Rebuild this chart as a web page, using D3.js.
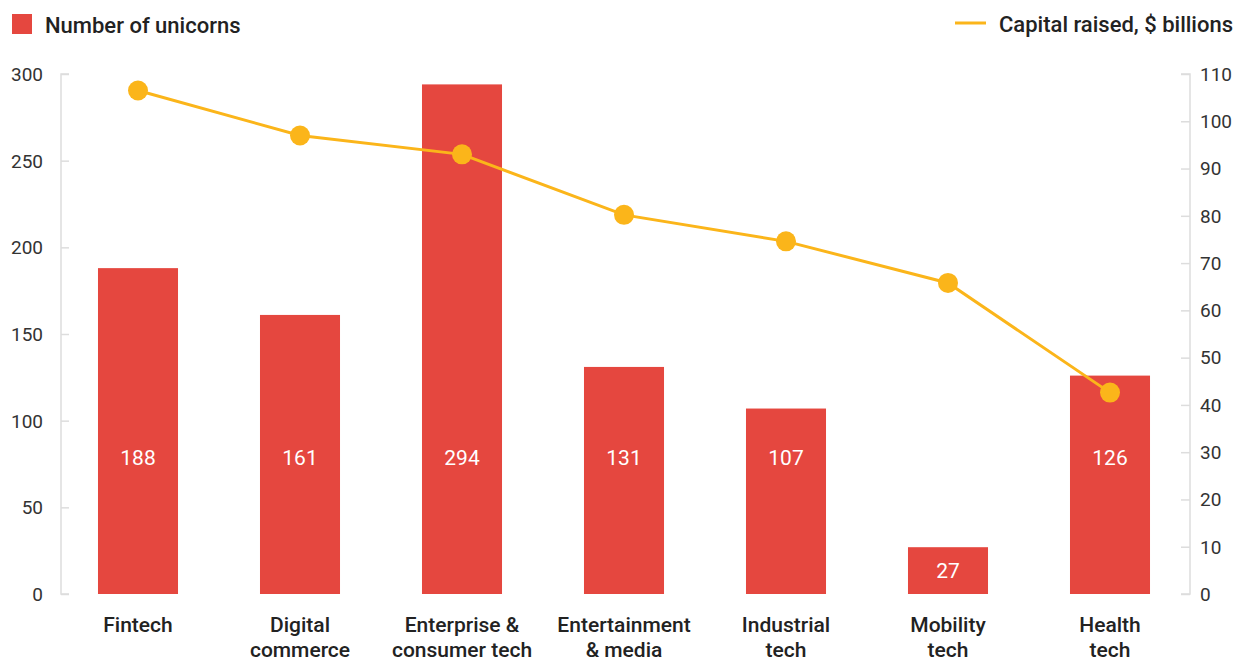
<!DOCTYPE html>
<html><head><meta charset="utf-8">
<script src="https://cdn.jsdelivr.net/npm/d3@7/dist/d3.min.js"></script>
<style>body{margin:0;background:#fff;} text{font-family:Roboto,"DejaVu Sans",sans-serif;}</style>
</head><body>
<svg id="c" width="1249" height="659"></svg>
<script>
const categories = ["Fintech","Digital\ncommerce","Enterprise &\nconsumer tech","Entertainment\n& media","Industrial\ntech","Mobility\ntech","Health\ntech"];
const unicorns = [188,161,294,131,107,27,126];
const capital = [106.5,97,93,80.2,74.6,65.8,42.6];
const leftTicks = [0,50,100,150,200,250,300];
const rightTicks = [0,10,20,30,40,50,60,70,80,90,100,110];

const svg = d3.select("#c");
const red = "#e5473f", gold = "#fbb51a", axisCol = "#dddddd", txt = "#222";
const x = d3.scaleBand().domain(categories).range([57,1191]).paddingInner(0.506).paddingOuter(0.253);
const yL = d3.scaleLinear().domain([0,300]).range([594,74]);
const yR = d3.scaleLinear().domain([0,110]).range([594,74]);

// axes
const gl = svg.append("g").attr("transform","translate(61,0)").call(d3.axisRight(yL).tickValues(leftTicks).tickSize(8).tickFormat(""));
gl.select(".domain").attr("stroke",axisCol).attr("stroke-width",1.5).attr("d","M8,74H0V594H8");
gl.selectAll(".tick line").attr("stroke",axisCol).attr("stroke-width",1.5);
leftTicks.forEach(t=>svg.append("text").attr("x",43).attr("y",yL(t)).attr("dy","0.36em").attr("text-anchor","end").attr("font-size",19).attr("fill","#333").text(t));

const gr = svg.append("g").attr("transform","translate(1190,0)").call(d3.axisLeft(yR).tickValues(rightTicks).tickSize(9).tickFormat(""));
gr.select(".domain").attr("stroke",axisCol).attr("stroke-width",1.5).attr("d","M-9,74H0V594H-9");
gr.selectAll(".tick line").attr("stroke",axisCol).attr("stroke-width",1.5);
rightTicks.forEach(t=>svg.append("text").attr("x",1200).attr("y",yR(t)).attr("dy","0.36em").attr("text-anchor","start").attr("font-size",19).attr("fill","#333").text(t));

// bars
svg.selectAll("rect.bar").data(unicorns).join("rect").attr("class","bar")
  .attr("x",(d,i)=>x(categories[i])).attr("width",x.bandwidth())
  .attr("y",d=>yL(d)).attr("height",d=>yL(0)-yL(d)).attr("fill",red);
const labelY = yL(79);
svg.selectAll("text.val").data(unicorns).join("text").attr("class","val")
  .attr("x",(d,i)=>x(categories[i])+x.bandwidth()/2)
  .attr("y",d=>yL(d) < labelY - 20 ? labelY : (yL(d)+yL(0))/2).attr("dy","0.36em")
  .attr("text-anchor","middle").attr("font-size",21).attr("fill","#fff").text(d=>d);

// line
const cx = i=>x(categories[i])+x.bandwidth()/2;
svg.append("path").datum(capital).attr("fill","none").attr("stroke",gold).attr("stroke-width",3)
  .attr("d",d3.line().x((d,i)=>cx(i)).y(d=>yR(d)));
svg.selectAll("circle.pt").data(capital).join("circle").attr("class","pt")
  .attr("cx",(d,i)=>cx(i)).attr("cy",d=>yR(d)).attr("r",10).attr("fill",gold);

// category labels
categories.forEach((c,i)=>{
  const t = svg.append("text").attr("x",cx(i)).attr("y",632).attr("text-anchor","middle").attr("font-size",21).attr("font-weight",500).attr("fill",txt);
  c.split("\n").forEach((ln,j)=>t.append("tspan").attr("x",cx(i)).attr("dy",j?24.5:0).text(ln));
});

// legends
svg.append("rect").attr("x",12).attr("y",14).attr("width",20).attr("height",20).attr("fill",red);
svg.append("text").attr("x",45).attr("y",33).attr("font-size",22).attr("font-weight",500).attr("fill",txt).text("Number of unicorns");
svg.append("line").attr("x1",955).attr("x2",986).attr("y1",23).attr("y2",23).attr("stroke",gold).attr("stroke-width",3);
svg.append("text").attr("x",999).attr("y",32).attr("font-size",22).attr("font-weight",500).attr("fill",txt).text("Capital raised, $ billions");
</script>
</body></html>
